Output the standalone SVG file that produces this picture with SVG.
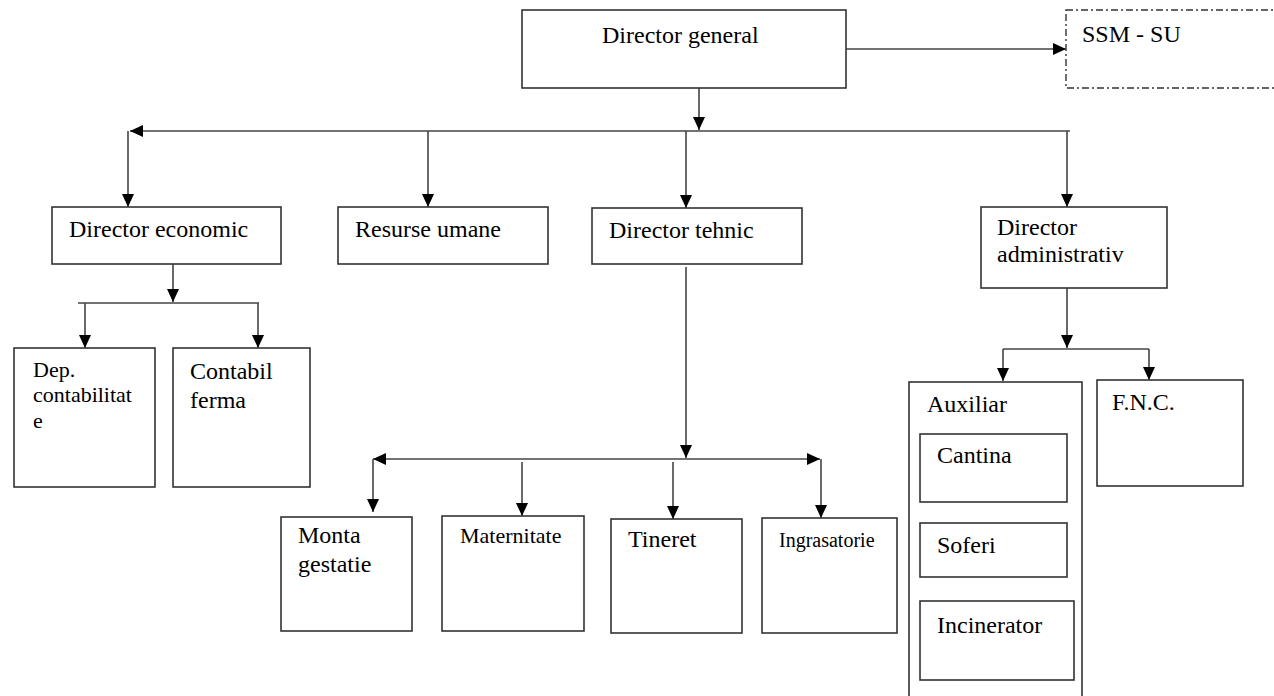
<svg xmlns="http://www.w3.org/2000/svg" width="1274" height="696" viewBox="0 0 1274 696">
  <style>
    .box { fill: #ffffff; stroke: #333333; stroke-width: 1.6; }
    .dash { fill: #ffffff; stroke: #333333; stroke-width: 1.4; stroke-dasharray: 7 3 2 3; }
    .lbl { font-family: "Liberation Serif", "DejaVu Serif", "Times New Roman", serif; font-size: 24px; fill: #000000; }
    .sm { font-size: 22px; }
    .xs { font-size: 20px; }
    .ln { fill: none; stroke: #444444; stroke-width: 1.6; }
    .arr { marker-end: url(#head); }
  </style>
  <defs>
    <marker id="head" markerUnits="userSpaceOnUse" markerWidth="14" markerHeight="12" refX="13" refY="6" orient="auto">
      <path d="M0,0 L13,6 L0,12 z" fill="#000000"/>
    </marker>
  </defs>

  <rect width="1274" height="696" fill="#ffffff"/>

  <!-- connectors -->
  <g id="connectors">
    <!-- director general -> SSM -->
    <line class="ln arr" x1="846" y1="49" x2="1066" y2="49"/>
    <!-- director general -> main bus -->
    <line class="ln arr" x1="699" y1="88" x2="699" y2="130"/>
    <line class="ln arr" x1="1070" y1="131" x2="130" y2="131"/>
    <line class="ln arr" x1="128" y1="131" x2="128" y2="207"/>
    <line class="ln arr" x1="428" y1="131" x2="428" y2="207"/>
    <line class="ln arr" x1="686" y1="131" x2="686" y2="208"/>
    <line class="ln arr" x1="1067" y1="131" x2="1067" y2="207"/>
    <!-- director economic branch -->
    <line class="ln arr" x1="173" y1="264" x2="173" y2="302"/>
    <line class="ln" x1="78" y1="303" x2="259" y2="303"/>
    <line class="ln arr" x1="85" y1="303" x2="85" y2="348"/>
    <line class="ln arr" x1="258" y1="303" x2="258" y2="348"/>
    <!-- director tehnic branch -->
    <line class="ln arr" x1="686" y1="267" x2="686" y2="458"/>
    <line class="ln arr" x1="686" y1="459" x2="373" y2="459"/>
    <line class="ln arr" x1="686" y1="459" x2="820" y2="459"/>
    <line class="ln arr" x1="373" y1="459" x2="373" y2="512"/>
    <line class="ln arr" x1="522" y1="462" x2="522" y2="516"/>
    <line class="ln arr" x1="673" y1="462" x2="673" y2="519"/>
    <line class="ln arr" x1="821" y1="459" x2="821" y2="518"/>
    <!-- director administrativ branch -->
    <line class="ln arr" x1="1067" y1="288" x2="1067" y2="348"/>
    <line class="ln" x1="1003" y1="349" x2="1149" y2="349"/>
    <line class="ln arr" x1="1003" y1="349" x2="1003" y2="381"/>
    <line class="ln arr" x1="1149" y1="349" x2="1149" y2="380"/>
  </g>

  <g font-family="Liberation Serif, DejaVu Serif, serif">
  <g id="director-general">
    <rect class="box" x="522" y="10" width="324" height="78"/>
    <text class="lbl" x="602" y="43">Director general</text>
  </g>

  <g id="ssm-su">
    <rect class="dash" x="1066" y="10" width="220" height="78"/>
    <text class="lbl" x="1082" y="42">SSM - SU</text>
  </g>

  <g id="director-economic">
    <rect class="box" x="52" y="207" width="229" height="57"/>
    <text class="lbl" x="69" y="237">Director economic</text>
  </g>

  <g id="resurse-umane">
    <rect class="box" x="338" y="207" width="210" height="57"/>
    <text class="lbl" x="355" y="237">Resurse umane</text>
  </g>

  <g id="director-tehnic">
    <rect class="box" x="592" y="208" width="210" height="56"/>
    <text class="lbl" x="609" y="238">Director tehnic</text>
  </g>

  <g id="director-administrativ">
    <rect class="box" x="981" y="207" width="186" height="81"/>
    <text class="lbl" x="997" y="235">Director</text>
    <text class="lbl" x="997" y="262">administrativ</text>
  </g>

  <g id="dep-contabilitate">
    <rect class="box" x="14" y="348" width="141" height="139"/>
    <text class="lbl sm" x="33" y="377">Dep.</text>
    <text class="lbl sm" x="33" y="402">contabilitat</text>
    <text class="lbl sm" x="33" y="428">e</text>
  </g>

  <g id="contabil-ferma">
    <rect class="box" x="173" y="348" width="137" height="139"/>
    <text class="lbl" x="190" y="379">Contabil</text>
    <text class="lbl" x="190" y="408">ferma</text>
  </g>

  <g id="monta-gestatie">
    <rect class="box" x="281" y="517" width="131" height="114"/>
    <text class="lbl" x="298" y="543">Monta</text>
    <text class="lbl" x="298" y="572">gestatie</text>
  </g>

  <g id="maternitate">
    <rect class="box" x="442" y="516" width="142" height="115"/>
    <text class="lbl sm" x="460" y="543">Maternitate</text>
  </g>

  <g id="tineret">
    <rect class="box" x="611" y="519" width="131" height="114"/>
    <text class="lbl" x="628" y="547">Tineret</text>
  </g>

  <g id="ingrasatorie">
    <rect class="box" x="762" y="518" width="135" height="115"/>
    <text class="lbl xs" x="779" y="547">Ingrasatorie</text>
  </g>

  <g id="auxiliar">
    <rect class="box" x="909" y="382" width="173" height="330"/>
    <text class="lbl" x="927" y="412">Auxiliar</text>
  </g>

  <g id="cantina">
    <rect class="box" x="920" y="434" width="147" height="68"/>
    <text class="lbl" x="937" y="463">Cantina</text>
  </g>

  <g id="soferi">
    <rect class="box" x="920" y="523" width="147" height="54"/>
    <text class="lbl" x="937" y="553">Soferi</text>
  </g>

  <g id="incinerator">
    <rect class="box" x="920" y="601" width="154" height="79"/>
    <text class="lbl" x="937" y="633">Incinerator</text>
  </g>

  <g id="fnc">
    <rect class="box" x="1097" y="380" width="146" height="106"/>
    <text class="lbl" x="1112" y="410">F.N.C.</text>
  </g>
  </g>
</svg>
